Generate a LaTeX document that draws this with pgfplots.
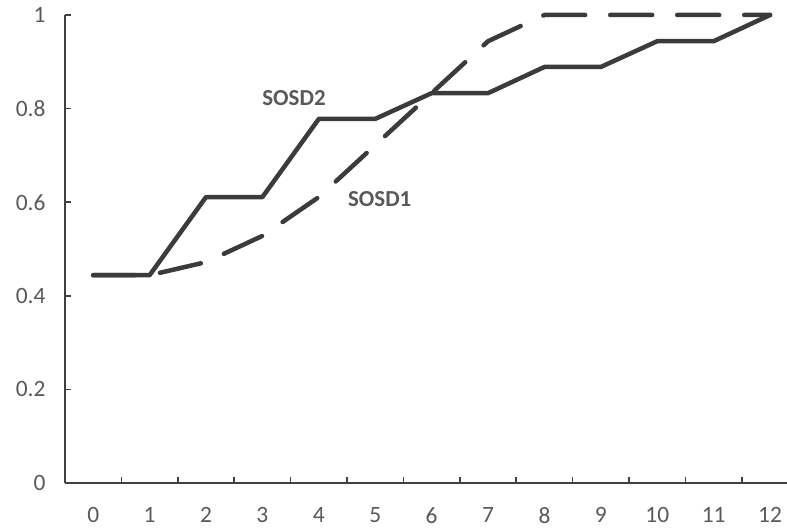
\documentclass[border=0pt]{standalone}
\usepackage{fontspec}
\setmainfont{Carlito}
\usepackage{pgfplots}
\pgfplotsset{compat=1.18}
\definecolor{lc}{RGB}{59,59,59}
\definecolor{tc}{RGB}{89,89,89}
\definecolor{ac}{RGB}{64,64,64}
\begin{document}
\begin{tikzpicture}
\useasboundingbox (0,0) rectangle (787bp,531bp);
\begin{axis}[
  at={(65bp,48bp)}, anchor=south west,
  scale only axis, width=722bp, height=468bp,
  xmin=-0.5, xmax=12.3, ymin=0, ymax=1,
  axis x line=bottom, axis y line=left,
  axis line style={-, ac, line width=1.8bp},
  xtick={0,...,12}, 
  minor xtick={-0.5,0.5,...,11.5},
  major x tick style={draw=none},
  minor x tick style={ac, line width=1.6bp},
  minor tick length=6bp,
  ytick={0,0.2,0.4,0.6,0.8,1},
  yticklabels={0,0.2,0.4,0.6,0.8,1},
  major y tick style={ac, line width=1.6bp},
  major tick length=6bp,
  tick align=inside,
  /pgf/number format/assume math mode=true,
  ticklabel style={font=\fontsize{23.5}{28}\selectfont, text=tc},
  xticklabel style={yshift=-21bp},
  yticklabel style={xshift=-16bp},
  clip=false,
]
\addplot[lc, line width=4.5bp, line join=round, line cap=round] coordinates {
(0,0.444) (1,0.444) (2,0.611) (3,0.611) (4,0.778) (5,0.778) (6,0.833) (7,0.833) (8,0.889) (9,0.889) (10,0.944) (11,0.944) (12,1.0)};
\addplot[lc, line width=4.5bp, line join=round, line cap=round, dash pattern=on 42bp off 25bp] coordinates {
(0,0.444) (1,0.444) (2,0.472) (3,0.528) (4,0.611) (5,0.722) (6,0.833) (7,0.944) (8,1) (9,1) (10,1) (11,1) (12,1)};
\node[text=tc, font=\bfseries\fontsize{23}{27}\selectfont] at (axis cs:3.56,0.822) {SOSD2};
\node[text=tc, font=\bfseries\fontsize{23}{27}\selectfont] at (axis cs:5.08,0.606) {SOSD1};
\end{axis}
\end{tikzpicture}
\end{document}
